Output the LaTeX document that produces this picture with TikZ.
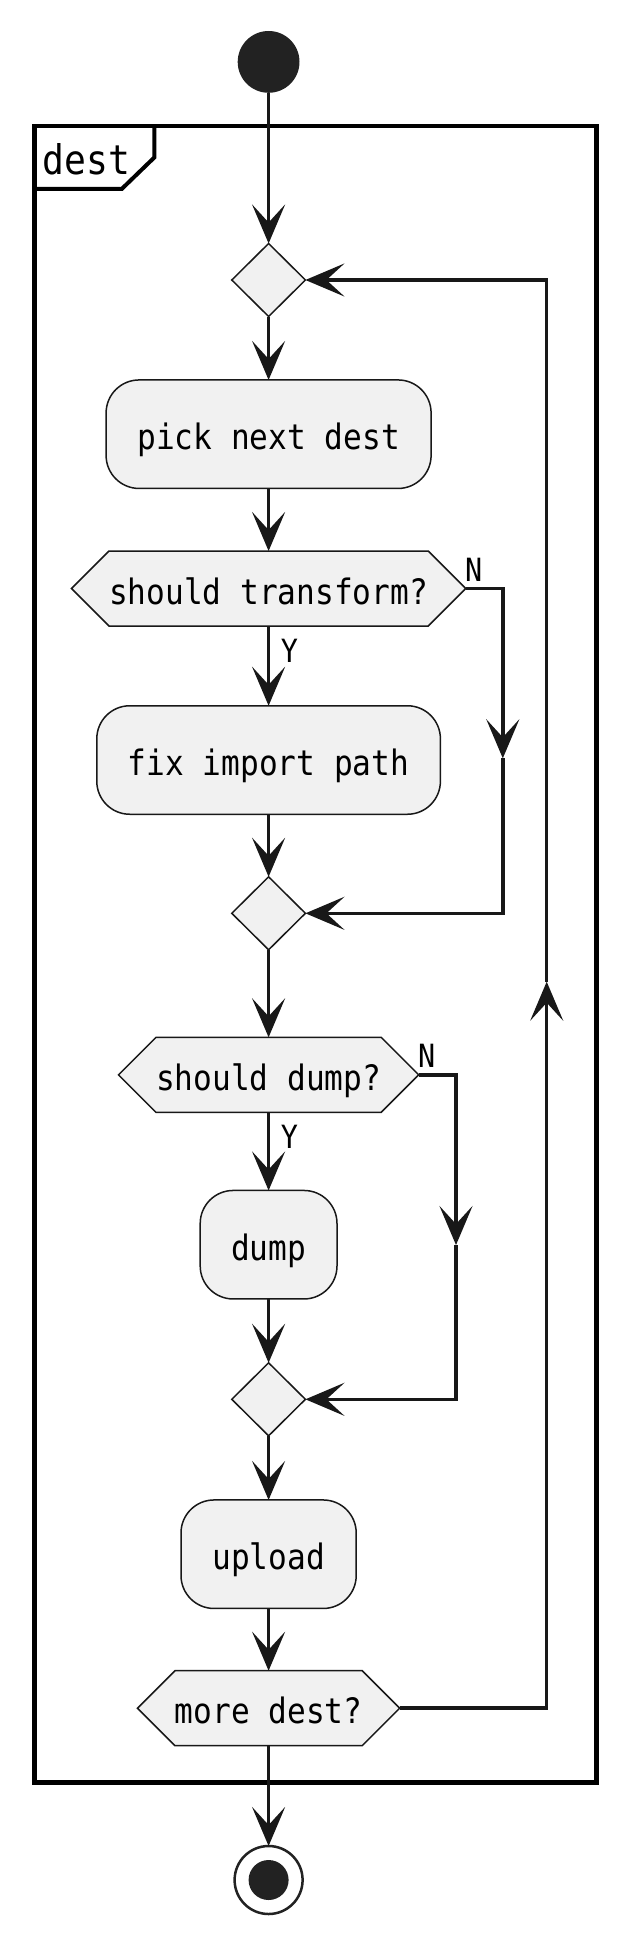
\documentclass[tikz,border=0pt]{standalone}
\usepackage{fontspec}
\setmainfont[FakeStretch=0.89]{DejaVu Sans Mono}
\usetikzlibrary{arrows.meta,shapes.geometric,calc}
\definecolor{ink}{HTML}{181818}
\definecolor{boxfill}{HTML}{F1F1F1}
\definecolor{dotc}{HTML}{222222}
\newcommand\hexshape[5]{%
  \filldraw[hexline] ({#2-#4-37.5},#3) -- ({#2-#4},{#3-37.5}) -- ({#2+#4},{#3-37.5}) --
    ({#2+#4+37.5},#3) -- ({#2+#4},{#3+37.5}) -- ({#2-#4},{#3+37.5}) -- cycle;
  \node[hextext,minimum width={2*#4}] (#1) at (#2,#3) {#5};
  \coordinate (#1e) at ({#2+#4+37.5},#3);
}
\begin{document}
\begin{tikzpicture}[x=1pt,y=-1pt,
  conn/.style={draw=ink,line width=3.5pt,line join=miter,-{Stealth[length=39pt,width=33pt,inset=18pt]}},
  actbox/.style={rectangle,rounded corners=33pt,draw=ink,fill=boxfill,line width=1.5pt,
    minimum height=108.5pt,inner sep=0pt,outer sep=0pt,text height=31pt,text depth=0pt,
    font=\fontsize{35pt}{40pt}\selectfont,text=black},
  hexline/.style={draw=ink,fill=boxfill,line width=1.5pt,line join=miter},
  hextext/.style={rectangle,draw=none,minimum height=75pt,inner sep=0pt,outer sep=0pt,
    text height=31pt,text depth=0pt,font=\fontsize{35pt}{40pt}\selectfont,text=black},
  merge/.style={diamond,draw=ink,fill=boxfill,line width=1.5pt,minimum width=73.6pt,
    minimum height=73pt,inner sep=0pt,outer sep=0pt},
  lab/.style={inner sep=0pt,anchor=base,font=\fontsize{32pt}{38pt}\selectfont,text=black}
]
\useasboundingbox (0,0) rectangle (628,1945);
\fill[white] (0,0) rectangle (628,1945);

% frame
\draw[line width=4.5pt,draw=black] (34.3,126) rectangle (596.3,1782.7);
\draw[line width=4pt,draw=black,line join=miter] (34.3,189) -- (121.7,189) -- (154.3,157.5) -- (154.3,126);
\node[inner sep=0pt,anchor=base west,font=\fontsize{40.8pt}{48pt}\selectfont] (grp) at (42.7,174.3) {dest};

% nodes
\node[circle,fill=dotc,draw=none,minimum size=61.8pt,inner sep=0pt,outer sep=0pt] (start) at (268.6,61.9) {};
\node[merge] (d1) at (268.6,280) {};
\node[actbox,minimum width=325pt] (pick) at (268.6,434.2) {pick next dest};
\hexshape{h1}{268.6}{588.5}{159.6}{should transform?}
\node[actbox,minimum width=343.6pt] (fix) at (268.6,760) {fix import path};
\node[merge] (d2) at (268.6,913.3) {};
\hexshape{h2}{268.6}{1074.8}{112.6}{should dump?}
\node[actbox,minimum width=136.8pt] (dump) at (268.6,1244.7) {dump};
\node[merge] (d3) at (268.6,1399.3) {};
\node[actbox,minimum width=175.2pt] (upload) at (268.6,1554.2) {upload};
\hexshape{h3}{268.6}{1708.2}{93.6}{more dest?}
\node[circle,draw=dotc,line width=2.5pt,fill=white,minimum size=68pt,inner sep=0pt,outer sep=0pt] (stop) at (268.6,1880) {};
\node[circle,fill=dotc,draw=none,minimum size=40pt,inner sep=0pt] (stopdot) at (stop.center) {};

% labels
\node[lab] (n1) at (473.6,581.7) {N};
\node[lab] (y1) at (289.5,662.7) {Y};
\node[lab] (n2) at (426.6,1067.7) {N};
\node[lab] (y2) at (289.5,1148.3) {Y};

% route coordinates
\coordinate (n1a) at (502.8,588.5);
\coordinate (n1m) at (502.8,758.3);
\coordinate (n1b) at (502.8,913.3);
\coordinate (n2a) at (456,1074.8);
\coordinate (n2m) at (456,1245);
\coordinate (n2b) at (456,1399.3);
\coordinate (lpa) at (546.7,1708.2);
\coordinate (lpm) at (546.7,981.7);
\coordinate (lpb) at (546.7,280);

% connectors
\draw[conn] (start) -- (d1);
\draw[conn] (d1) -- (pick);
\draw[conn] (pick) -- (h1);
\draw[conn] (h1) -- (fix);
\draw[conn] (fix) -- (d2);
\draw[conn] (h1e) -- (n1a) -- (n1m);
\draw[conn] (n1m) -- (n1b) -- (d2.east);
\draw[conn] (d2) -- (h2);
\draw[conn] (h2) -- (dump);
\draw[conn] (dump) -- (d3);
\draw[conn] (h2e) -- (n2a) -- (n2m);
\draw[conn] (n2m) -- (n2b) -- (d3.east);
\draw[conn] (d3) -- (upload);
\draw[conn] (upload) -- (h3);
\draw[conn] (h3) -- (stop);
\draw[conn] (h3e) -- (lpa) -- (lpm);
\draw[conn] (lpm) -- (lpb) -- (d1.east);
\end{tikzpicture}
\end{document}
